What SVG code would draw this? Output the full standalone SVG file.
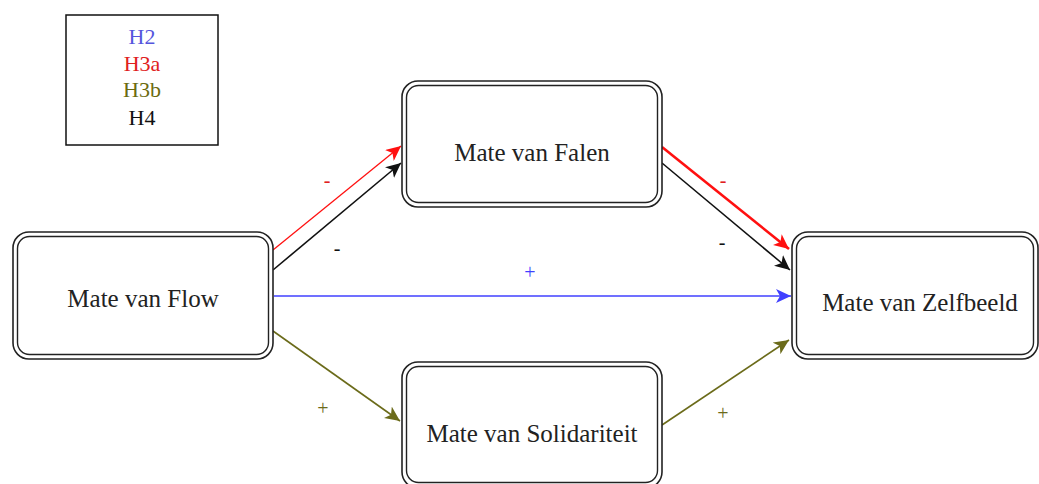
<svg xmlns="http://www.w3.org/2000/svg" width="1039" height="484" viewBox="0 0 1039 484">
<style>
.box{fill:#fff;stroke:#222;stroke-width:1.6}
.inner{fill:none;stroke:#222;stroke-width:1.4}
.t{font-family:"Liberation Serif","Times New Roman",serif;font-size:25px;fill:#222;text-anchor:middle}
.lg{font-family:"Liberation Serif","Times New Roman",serif;font-size:22px;text-anchor:middle}
.lb{font-family:"Liberation Serif","Times New Roman",serif;font-size:20px;text-anchor:middle;dominant-baseline:central}
.c{fill:none}
</style>
<defs>
<marker id="ar" markerUnits="userSpaceOnUse" markerWidth="16" markerHeight="14" refX="15" refY="7" orient="auto"><path d="M0,0 L15,7 L0,14 L4,7 Z" fill="#ff1010"/></marker>
<marker id="ak" markerUnits="userSpaceOnUse" markerWidth="16" markerHeight="14" refX="15" refY="7" orient="auto"><path d="M0,0 L15,7 L0,14 L4,7 Z" fill="#111"/></marker>
<marker id="ab" markerUnits="userSpaceOnUse" markerWidth="16" markerHeight="14" refX="15" refY="7" orient="auto"><path d="M0,0 L15,7 L0,14 L4,7 Z" fill="#4040ff"/></marker>
<marker id="ao" markerUnits="userSpaceOnUse" markerWidth="16" markerHeight="14" refX="15" refY="7" orient="auto"><path d="M0,0 L15,7 L0,14 L4,7 Z" fill="#6b6b1a"/></marker>
</defs>

<g id="legend">
<rect x="66" y="15" width="152" height="130" fill="#fff" stroke="#111" stroke-width="1.5"/>
<text class="lg" x="142" y="44" fill="#5555dd">H2</text>
<text class="lg" x="142" y="71" fill="#e02020">H3a</text>
<text class="lg" x="142" y="97" fill="#6b6b10">H3b</text>
<text class="lg" x="142" y="125" fill="#111">H4</text>
</g>

<g id="connectors">
<line class="c" x1="273" y1="250" x2="401" y2="146" stroke="#ff1010" stroke-width="1.3" marker-end="url(#ar)"/>
<line class="c" x1="273" y1="270" x2="401" y2="163" stroke="#111" stroke-width="1.6" marker-end="url(#ak)"/>
<line class="c" x1="662" y1="147" x2="789" y2="249" stroke="#ff1010" stroke-width="2.6" marker-end="url(#ar)"/>
<line class="c" x1="662" y1="163" x2="790" y2="270" stroke="#111" stroke-width="1.6" marker-end="url(#ak)"/>
<line class="c" x1="274" y1="296" x2="791" y2="296" stroke="#4040ff" stroke-width="1.5" marker-end="url(#ab)"/>
<line class="c" x1="273" y1="331" x2="400" y2="421" stroke="#6b6b1a" stroke-width="1.6" marker-end="url(#ao)"/>
<line class="c" x1="662" y1="425" x2="789" y2="340" stroke="#6b6b1a" stroke-width="1.6" marker-end="url(#ao)"/>
<text class="lb" x="327" y="180" fill="#e02020">-</text>
<text class="lb" x="337" y="248" fill="#111">-</text>
<text class="lb" x="723" y="180" fill="#e02020">-</text>
<text class="lb" x="722" y="242" fill="#111">-</text>
<text class="lb" x="530" y="272" fill="#4040ff">+</text>
<text class="lb" x="323" y="408" fill="#6b6b1a">+</text>
<text class="lb" x="723" y="413" fill="#6b6b1a">+</text>
</g>

<g id="flow">
<rect class="box" x="13" y="232" width="260" height="127" rx="16"/>
<rect class="inner" x="17.5" y="236.5" width="251" height="118" rx="12"/>
<text class="t" x="143" y="307">Mate van Flow</text>
</g>

<g id="falen">
<rect class="box" x="402" y="81" width="260" height="126" rx="16"/>
<rect class="inner" x="406.5" y="85.5" width="251" height="117" rx="12"/>
<text class="t" x="532" y="161">Mate van Falen</text>
</g>

<g id="solidariteit">
<rect class="box" x="402" y="362" width="260" height="126" rx="16"/>
<rect class="inner" x="406.5" y="366.5" width="251" height="116" rx="12"/>
<text class="t" x="532" y="442">Mate van Solidariteit</text>
</g>

<g id="zelfbeeld">
<rect class="box" x="792" y="232" width="246" height="127" rx="16"/>
<rect class="inner" x="796.5" y="236.5" width="237" height="118" rx="12"/>
<text class="t" x="920" y="311">Mate van Zelfbeeld</text>
</g>
</svg>
